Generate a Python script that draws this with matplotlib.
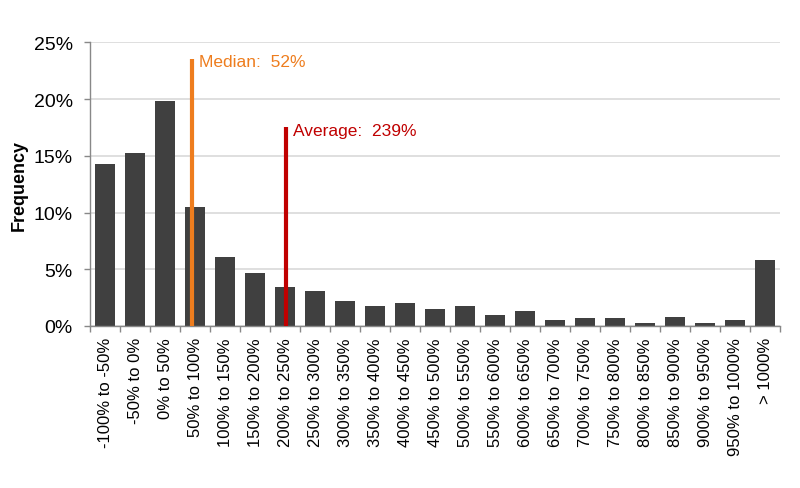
import matplotlib
matplotlib.use("Agg")
import matplotlib.pyplot as plt
from matplotlib.ticker import FixedLocator, FuncFormatter

bins = ["-100% to -50%", "-50% to 0%", "0% to 50%", "50% to 100%", "100% to 150%",
        "150% to 200%", "200% to 250%", "250% to 300%", "300% to 350%", "350% to 400%",
        "400% to 450%", "450% to 500%", "500% to 550%", "550% to 600%", "600% to 650%",
        "650% to 700%", "700% to 750%", "750% to 800%", "800% to 850%", "850% to 900%",
        "900% to 950%", "950% to 1000%", "> 1000%"]
freq = [14.3, 15.2, 19.8, 10.5, 6.1, 4.7, 3.4, 3.1, 2.2, 1.8, 2.0, 1.5,
        1.8, 1.0, 1.3, 0.5, 0.7, 0.7, 0.3, 0.8, 0.3, 0.5, 5.8]

# marker lines: position on the category axis, height, label
median_x, median_top, median_label = 2.89, 23.5, "Median:  52%"
avg_x, avg_top, avg_label = 6.03, 17.5, "Average:  239%"

plt.rcParams["font.family"] = ["Liberation Sans", "DejaVu Sans"]

fig = plt.figure(figsize=(8, 4.89), dpi=100)
ax = fig.add_axes([0.1125, 0.3313, 0.8625, 0.5802])

x = list(range(len(bins)))
ax.bar(x, freq, width=0.66, color="#404040", zorder=2)

ax.vlines(median_x, 0, median_top, color="#EE7D1E", lw=3, zorder=3)
ax.vlines(avg_x, 0, avg_top, color="#C00000", lw=3, zorder=3)
ax.annotate(median_label, (median_x, median_top - 0.2), xytext=(5, 0),
            textcoords="offset points", va="center", ha="left",
            color="#EE7D1E", fontsize=12.5)
ax.annotate(avg_label, (avg_x, avg_top - 0.3), xytext=(5, 0),
            textcoords="offset points", va="center", ha="left",
            color="#C00000", fontsize=12.5)

ax.set_xlim(-0.5, len(bins) - 0.5)
ax.set_ylim(0, 25)
ax.set_yticks([0, 5, 10, 15, 20, 25])
ax.yaxis.set_major_formatter(FuncFormatter(lambda v, p: f"{v:.0f}%"))
ax.grid(axis="y", color="#D9D9D9", lw=1.2, zorder=0)

ax.set_xticks(x)
ax.set_xticklabels(bins, rotation=90, fontsize=12)
ax.xaxis.set_minor_locator(FixedLocator([i - 0.5 for i in range(len(bins) + 1)]))
ax.tick_params(axis="x", which="major", length=0, pad=8)
ax.tick_params(axis="x", which="minor", length=4, color="#888888", width=1)
ax.tick_params(axis="y", length=4.5, color="#888888", width=1, labelsize=14, pad=8)

for s in ["top", "right"]:
    ax.spines[s].set_visible(False)
for s in ["left", "bottom"]:
    ax.spines[s].set_color("#888888")
    ax.spines[s].set_linewidth(1)

ax.set_ylabel("Frequency", fontweight="bold", fontsize=13, labelpad=4)

fig.savefig("out.png", dpi=100)
